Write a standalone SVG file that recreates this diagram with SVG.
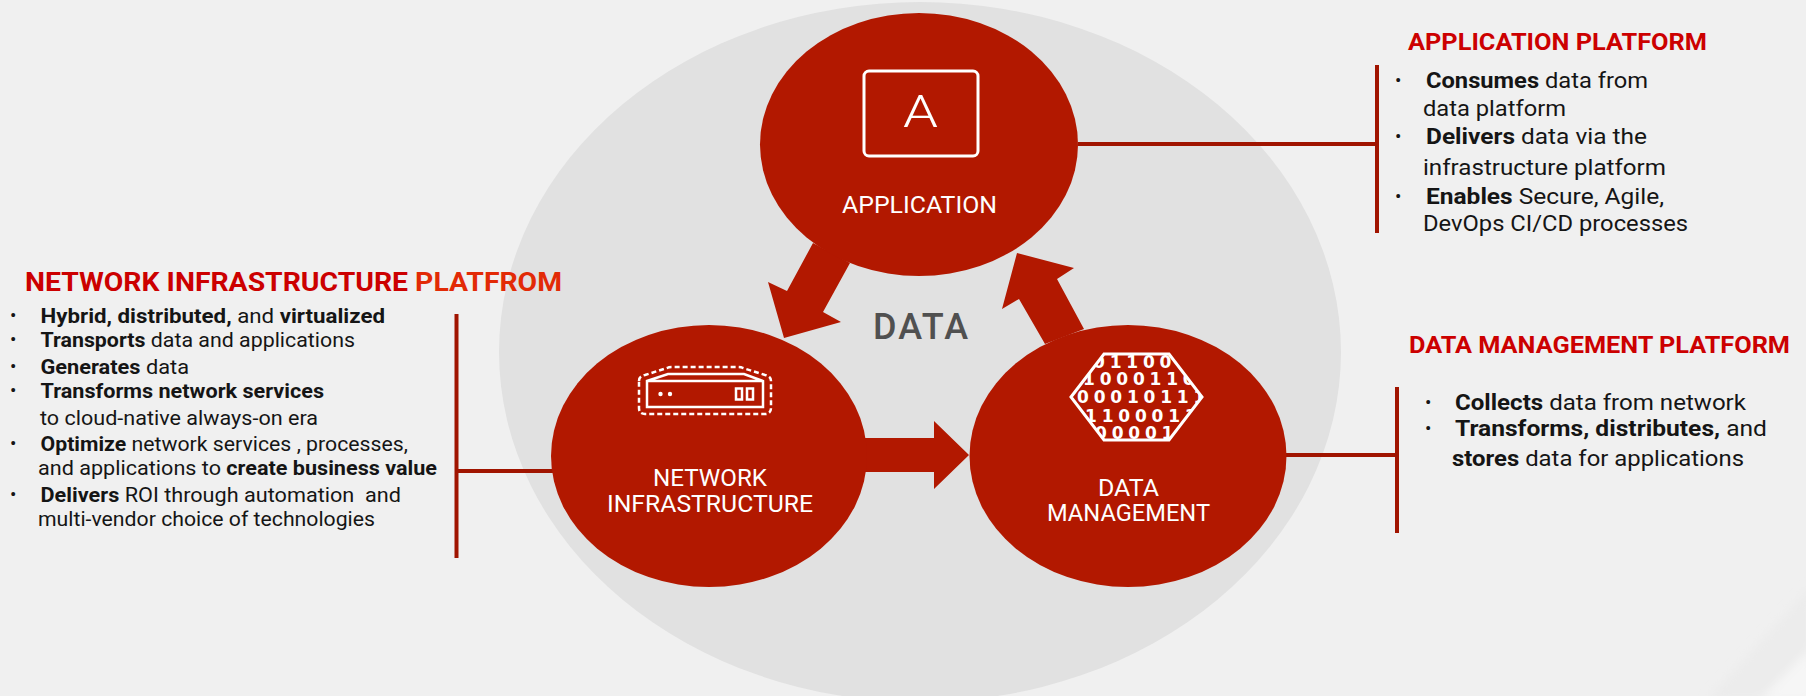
<svg xmlns="http://www.w3.org/2000/svg" width="1806" height="696" viewBox="0 0 1806 696">
<style>
text{font-family:"Roboto","Liberation Sans",sans-serif}
.node{fill:#b21800}
.lbl{fill:#fff;font-size:23.500px;font-weight:400;text-anchor:middle}
.ttl{fill:#cc0000;font-size:24px;font-weight:700}
.ttlb{fill:#cc0000;font-size:26px;font-weight:700}
.ttl2{fill:#e22a06}
.li{fill:#151515;font-size:21px;white-space:pre}
.lr{fill:#151515;font-size:22.500px;white-space:pre}
.li tspan.b,.lr tspan.b{font-weight:700}
.bul{fill:#151515;font-size:19px}
.bar{stroke:#a01400;stroke-width:4;fill:none}
.ic{fill:none;stroke:#fff;stroke-width:2.500}
.bin{fill:#fff;font-family:"DejaVu Sans",sans-serif;font-size:17px;font-weight:700;letter-spacing:4.800px}
</style>
<defs>
<clipPath id="hexclip"><polygon points="1071,397 1104,354 1169,354 1202,397 1169,440 1104,440"/></clipPath>
<filter id="soft" x="-20%" y="-20%" width="140%" height="140%"><feGaussianBlur stdDeviation="5"/></filter>
</defs>
<rect width="1806" height="696" fill="#f0f0f0"/>
<g filter="url(#soft)">
<polygon points="1707,700 1812,585 1812,647 1760,700" fill="#ececec"/>
<polygon points="1760,700 1812,647 1812,700" fill="#f6f6f6"/>
</g>
<g id="data-domain">
<ellipse cx="920" cy="352" rx="421" ry="350" fill="#e1e1e1"/>
<text x="873" y="339" font-size="36" font-weight="500" fill="#505050" textLength="95" lengthAdjust="spacing">DATA</text>
</g>
<g id="connectors">
<polygon class="node" points="813,243 787,291 768,282 784,338 841,322 823,312 850,263"/>
<polygon class="node" points="1017,253 1074,268 1057,279 1084,329 1045,344 1019,299 1002,309"/>
<polygon class="node" points="860,438 934,438 934,421 969,455 934,489 934,472 860,472"/>
<path class="bar" d="M1078,144H1377M1377,65V233"/>
<path class="bar" d="M556,471H456.500M456.500,314V558"/>
<path class="bar" d="M1286,455H1397M1397,387V533"/>
</g>
<g id="node-application">
<ellipse class="node" cx="919" cy="144.500" rx="159" ry="131.500"/>
<rect x="864" y="71" width="114" height="85" rx="5" fill="none" stroke="#fff" stroke-width="3"/>
<text x="903" y="127" font-size="45" font-weight="300" fill="#fff" textLength="35" lengthAdjust="spacingAndGlyphs">A</text>
<text class="lbl" x="919.500" y="213" textLength="155" lengthAdjust="spacingAndGlyphs">APPLICATION</text>
</g>
<g id="node-network">
<ellipse class="node" cx="709" cy="456" rx="158" ry="131"/>
<path class="ic" stroke-dasharray="5 3" d="M639,381Q639,376 645,375L667,368Q669,367 672,367H738Q741,367 743,368L765,375Q771,376 771,381V408Q771,414 765,414H645Q639,414 639,408Z"/>
<path class="ic" d="M647,381V407H763V381L744,374H668ZM647,381H763"/>
<circle cx="660.500" cy="394" r="2.200" fill="#fff"/>
<circle cx="670" cy="394" r="2.200" fill="#fff"/>
<rect class="ic" x="736" y="388.500" width="6" height="11" stroke-width="2"/>
<rect class="ic" x="747" y="388.500" width="6" height="11" stroke-width="2"/>
<text class="lbl" x="710" y="486" textLength="114" lengthAdjust="spacingAndGlyphs">NETWORK</text>
<text class="lbl" x="710" y="512" textLength="206" lengthAdjust="spacingAndGlyphs">INFRASTRUCTURE</text>
</g>
<g id="node-data">
<ellipse class="node" cx="1128" cy="456" rx="158.500" ry="131"/>
<g clip-path="url(#hexclip)">
<text class="bin" x="1093" y="368">01100</text>
<text class="bin" x="1083" y="385">10001100</text>
<text class="bin" x="1077" y="403">00010111</text>
<text class="bin" x="1085" y="422">11000111</text>
<text class="bin" x="1095" y="439">00001</text>
</g>
<polygon points="1071,397 1104,354 1169,354 1202,397 1169,440 1104,440" fill="none" stroke="#fff" stroke-width="3"/>
<text class="lbl" x="1128.500" y="496" textLength="61" lengthAdjust="spacingAndGlyphs">DATA</text>
<text class="lbl" x="1128.500" y="521" textLength="163" lengthAdjust="spacingAndGlyphs">MANAGEMENT</text>
</g>
<g id="panel-network">
<text class="ttlb" x="25" y="291" textLength="537" lengthAdjust="spacingAndGlyphs">NETWORK INFRASTRUCTURE <tspan class="ttl2">PLATFROM</tspan></text>
<text class="bul" x="10" y="322">•</text><text class="li" x="40.500" y="323" textLength="344.500" lengthAdjust="spacingAndGlyphs"><tspan class="b">Hybrid, distributed,</tspan> and <tspan class="b">virtualized</tspan></text>
<text class="bul" x="10" y="346">•</text><text class="li" x="40.500" y="347" textLength="314.500" lengthAdjust="spacingAndGlyphs"><tspan class="b">Transports</tspan> data and applications</text>
<text class="bul" x="10" y="373">•</text><text class="li" x="40.500" y="374" textLength="148.500" lengthAdjust="spacingAndGlyphs"><tspan class="b">Generates</tspan> data</text>
<text class="bul" x="10" y="397">•</text><text class="li" x="40.500" y="398" textLength="283.500" lengthAdjust="spacingAndGlyphs"><tspan class="b">Transforms network services</tspan></text>
<text class="li" x="40" y="425" textLength="278" lengthAdjust="spacingAndGlyphs">to cloud-native always-on era</text>
<text class="bul" x="10" y="450">•</text><text class="li" x="40.500" y="451" textLength="367.500" lengthAdjust="spacingAndGlyphs"><tspan class="b">Optimize</tspan> network services , processes,</text>
<text class="li" x="38" y="475" textLength="399" lengthAdjust="spacingAndGlyphs">and applications to <tspan class="b">create business value</tspan></text>
<text class="bul" x="10" y="501">•</text><text class="li" x="40.500" y="502" textLength="360.500" lengthAdjust="spacingAndGlyphs"><tspan class="b">Delivers</tspan> ROI through automation  and</text>
<text class="li" x="38" y="526" textLength="337" lengthAdjust="spacingAndGlyphs">multi-vendor choice of technologies</text>
</g>
<g id="panel-application">
<text class="ttl" x="1408" y="50" textLength="299" lengthAdjust="spacingAndGlyphs">APPLICATION PLATFORM</text>
<text class="bul" x="1395" y="87">•</text><text class="lr" x="1426" y="88" textLength="222" lengthAdjust="spacingAndGlyphs"><tspan class="b">Consumes</tspan> data from</text>
<text class="lr" x="1423" y="116" textLength="143" lengthAdjust="spacingAndGlyphs">data platform</text>
<text class="bul" x="1395" y="143">•</text><text class="lr" x="1426" y="144" textLength="221" lengthAdjust="spacingAndGlyphs"><tspan class="b">Delivers</tspan> data via the</text>
<text class="lr" x="1423" y="175" textLength="243" lengthAdjust="spacingAndGlyphs">infrastructure platform</text>
<text class="bul" x="1395" y="203">•</text><text class="lr" x="1426" y="204" textLength="238" lengthAdjust="spacingAndGlyphs"><tspan class="b">Enables</tspan> Secure, Agile,</text>
<text class="lr" x="1423" y="231" textLength="265" lengthAdjust="spacingAndGlyphs">DevOps CI/CD processes</text>
</g>
<g id="panel-data">
<text class="ttl" x="1409" y="353" textLength="381" lengthAdjust="spacingAndGlyphs">DATA MANAGEMENT PLATFORM</text>
<text class="bul" x="1425" y="409">•</text><text class="lr" x="1455" y="410" textLength="291" lengthAdjust="spacingAndGlyphs"><tspan class="b">Collects</tspan> data from network</text>
<text class="bul" x="1425" y="435">•</text><text class="lr" x="1455" y="436" textLength="312" lengthAdjust="spacingAndGlyphs"><tspan class="b">Transforms, distributes,</tspan> and</text>
<text class="lr" x="1452" y="466" textLength="292" lengthAdjust="spacingAndGlyphs"><tspan class="b">stores</tspan> data for applications</text>
</g>
</svg>
